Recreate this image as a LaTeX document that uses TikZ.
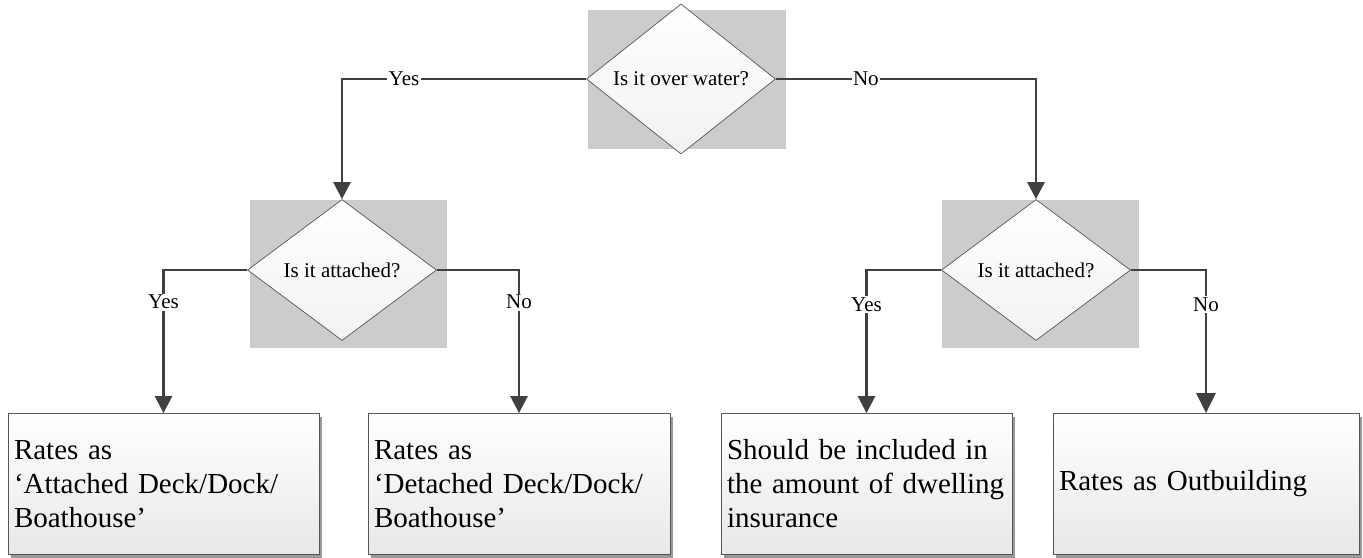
\documentclass[tikz,border=0pt]{standalone}
\usepackage{fontspec}
\setmainfont{Liberation Serif}
\usetikzlibrary{shapes.geometric,arrows.meta,shadows}
\definecolor{linkgray}{HTML}{404040}
\definecolor{edgegray}{HTML}{555555}
\definecolor{backgray}{HTML}{CCCCCC}
\def\waterback{(588,10) rectangle (786,149)}
\def\leftback{(250,200) rectangle (447,348)}
\def\rightback{(942,200) rectangle (1139,348)}

\begin{document}
\begin{tikzpicture}[x=1pt,y=-1pt,
    ask/.style={diamond,draw=edgegray,line width=0.7pt,top color=white,bottom color=black!5,
      minimum width=189pt,minimum height=141pt,inner sep=0pt,font=\fontsize{21}{25}\selectfont},
    outcome/.style={rectangle,draw=edgegray,line width=0.8pt,top color=white,bottom color=black!9,
      minimum height=141pt,inner xsep=6pt,align=left,font=\fontsize{29}{34}\selectfont,
      drop shadow={shadow xshift=3pt,shadow yshift=-3pt,fill=black!40,opacity=1}},
    link/.style={draw=linkgray,line width=2.6pt,-{Triangle[width=17pt,length=17pt]}},
    tag/.style={fill=white,inner sep=1.5pt,font=\fontsize{21}{25}\selectfont}]
  \useasboundingbox (0,0) rectangle (1363,557);
  \fill[backgray] \waterback;
  \fill[backgray] \leftback;
  \fill[backgray] \rightback;

  \node[ask] (water) at (681,79) {Is it over water?};
  \node[ask] (attachL) at (342,270) {Is it attached?};
  \node[ask] (attachR) at (1036,270) {Is it attached?};

  \node[outcome,text width=299pt] (deckA) at (163.5,484) {Rates as\\‘Attached Deck/Dock/\\Boathouse’};
  \node[outcome,text width=290pt] (deckD) at (519,484) {Rates as\\‘Detached Deck/Dock/\\Boathouse’};
  \node[outcome,text width=279pt] (dwelling) at (866.5,484) {Should be included in\\the amount of dwelling\\insurance};
  \node[outcome,text width=294pt] (outbuilding) at (1206,484) {Rates as Outbuilding};

  \draw[link] (water.west) -| node[tag,pos=0.373] {Yes} (attachL.north);
  \draw[link] (water.east) -| node[tag,pos=0.173] {No} (attachR.north);
  \draw[link] (attachL.west) -| node[tag,pos=0.612] {Yes} (deckA.north);
  \draw[link] (attachL.east) -| node[tag,pos=0.612] {No} (deckD.north);
  \draw[link] (attachR.west) -| node[tag,pos=0.622] {Yes} (dwelling.north);
  \draw[link,-{Triangle[width=19pt,length=20pt]}] (attachR.east) -| node[tag,pos=0.622] {No} (outbuilding.north);
\end{tikzpicture}
\end{document}
